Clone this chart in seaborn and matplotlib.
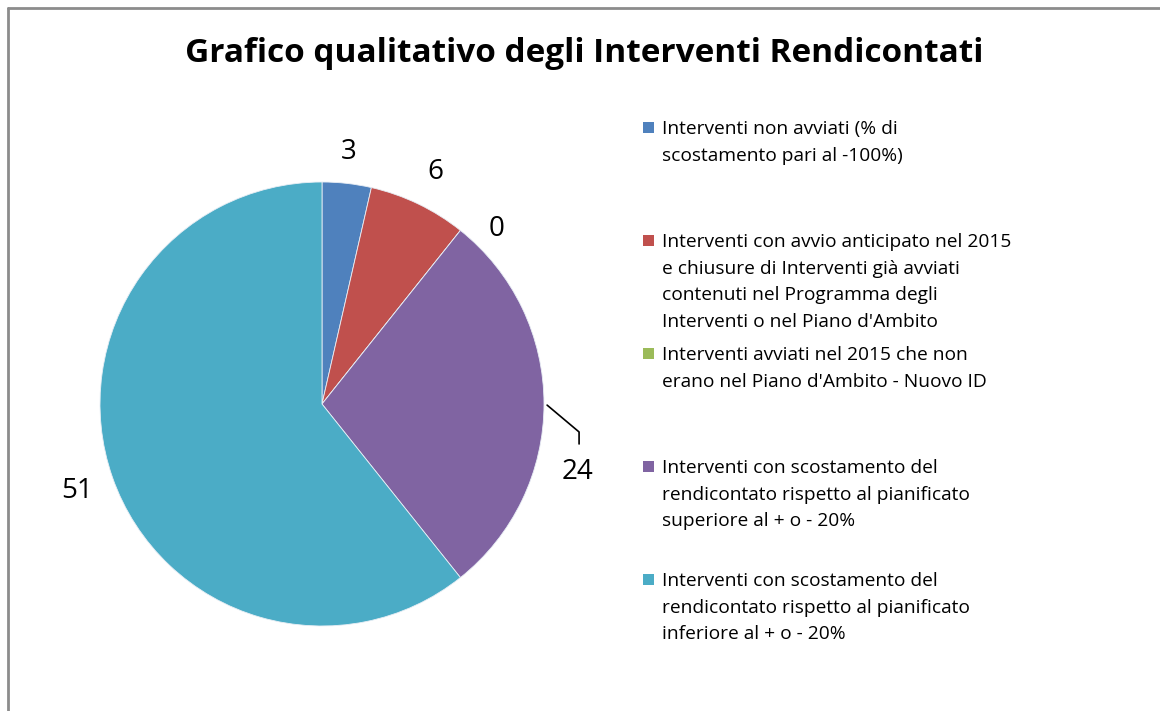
import numpy as np
import matplotlib
matplotlib.use("Agg")
import matplotlib.pyplot as plt
import seaborn as sns
from matplotlib.patches import Rectangle
from matplotlib.lines import Line2D

sns.set_theme(style="white")
plt.rcParams['font.family'] = ['Open Sans', 'DejaVu Sans']

title = "Grafico qualitativo degli Interventi Rendicontati"
categories = [
    "Interventi non avviati (% di\nscostamento pari al -100%)",
    "Interventi con avvio anticipato nel 2015\ne chiusure di Interventi già avviati\ncontenuti nel Programma degli\nInterventi o nel Piano d'Ambito",
    "Interventi avviati nel 2015 che non\nerano nel Piano d'Ambito - Nuovo ID",
    "Interventi con scostamento del\nrendicontato rispetto al pianificato\nsuperiore al + o - 20%",
    "Interventi con scostamento del\nrendicontato rispetto al pianificato\ninferiore al + o - 20%",
]
values = [3, 6, 0, 24, 51]
colors = sns.color_palette(["#4F81BD", "#C0504D", "#9BBB59", "#8064A2", "#4BACC6"])

W, H = 1160, 711
fig = plt.figure(figsize=(W / 100, H / 100), dpi=100)
fig.patch.set_facecolor("white")

# border (top and left)
fig.add_artist(Line2D([8 / W, 1.0], [1 - 7.5 / H, 1 - 7.5 / H], color="#8c8c8c", lw=2, transform=fig.transFigure))
fig.add_artist(Line2D([8 / W, 8 / W], [0, 1 - 7.5 / H], color="#8c8c8c", lw=2, transform=fig.transFigure))

cx, cy, r = 322, 404, 222
ax = fig.add_axes([(cx - r) / W, (H - cy - r) / H, 2 * r / W, 2 * r / H])
wedges, _ = ax.pie(values, colors=colors, startangle=90, counterclock=False,
                   wedgeprops=dict(linewidth=0.6, edgecolor="#e8eef5"), radius=1.0)
ax.set_xlim(-1, 1)
ax.set_ylim(-1, 1)
ax.set_aspect("equal")
ax.axis("off")

# data labels (Excel best-fit placement)
label_pos = [(84, 1.14), (64, 1.165), (45, 1.115), (-15, 1.19), (199.5, 1.17)]
for v, (ang, rr) in zip(values, label_pos):
    a = np.deg2rad(ang)
    ax.text(rr * np.cos(a), rr * np.sin(a), str(v), ha="center", va="center",
            fontsize=20, color="black", clip_on=False)

# leader line for "24"
ax.plot([1.014, 1.158, 1.158], [-0.005, -0.126, -0.18], color="black", lw=1.2, clip_on=False)

fig.text(584 / W, 1 - 54 / H, title, ha="center", va="center", fontsize=24,
         fontweight="bold", color="black")

# legend
y0, step = 128, 113
for i, (lab, c) in enumerate(zip(categories, colors)):
    ytop = y0 + i * step
    fig.add_artist(Rectangle((643 / W, 1 - (ytop + 5) / H), 11 / W, 11 / H,
                             facecolor=c, edgecolor="none", transform=fig.transFigure))
    fig.text(662 / W, 1 - (ytop - 8) / H, lab, ha="left", va="top", fontsize=13.8,
             color="black", linespacing=1.62)

fig.savefig("out.png", dpi=100, facecolor="white")
